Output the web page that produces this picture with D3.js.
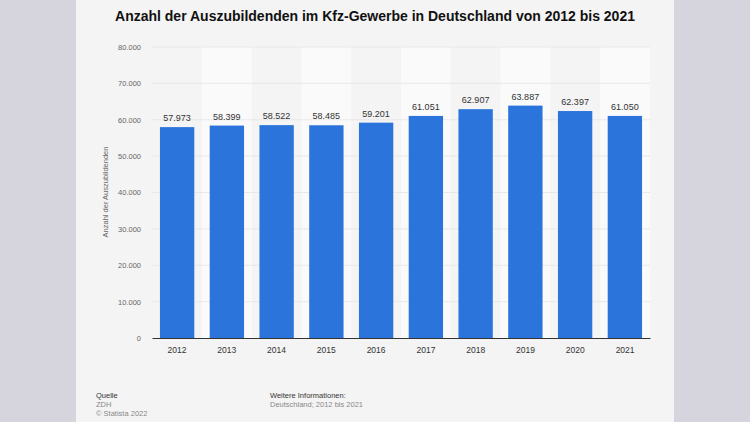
<!DOCTYPE html>
<html><head><meta charset="utf-8">
<script src="https://cdn.jsdelivr.net/npm/d3@7"></script>
<style>
html,body{margin:0;padding:0;background:#d6d5de;}
svg{display:block;font-family:"Liberation Sans",Arial,sans-serif;}
</style></head>
<body>
<svg id="c" width="750" height="422"></svg>
<script>
const years = ["2012","2013","2014","2015","2016","2017","2018","2019","2020","2021"];
const values = [57973,58399,58522,58485,59201,61051,62907,63887,62397,61050];
const yTicks = [0,10000,20000,30000,40000,50000,60000,70000,80000];
const title = "Anzahl der Auszubildenden im Kfz-Gewerbe in Deutschland von 2012 bis 2021";
const yTitle = "Anzahl der Auszubildenden";

const svg = d3.select("#c");
const fmt = v => d3.format(",")(v).replace(/,/g, ".");

svg.append("rect").attr("x",0).attr("y",0).attr("width",750).attr("height",422).attr("fill","#d6d5de");
svg.append("rect").attr("x",76).attr("y",0).attr("width",598).attr("height",422).attr("fill","#f4f4f4");

const m = {left:152, right:650, top:47, bottom:338};
const x = d3.scaleBand().domain(years).range([m.left, m.right]).paddingInner(0.31).paddingOuter(0.16);
const xb = d3.scaleBand().domain(years).range([m.left, m.right]).padding(0);
const y = d3.scaleLinear().domain([0,80000]).range([m.bottom, m.top]);

// alternating column backgrounds
svg.append("g").selectAll("rect").data(years.filter((d,i)=>i%2===1)).join("rect")
  .attr("x", d=>xb(d)).attr("y", m.top).attr("width", xb.bandwidth()).attr("height", m.bottom-m.top)
  .attr("fill","#fafafa");

// gridlines
svg.append("g").selectAll("line").data(yTicks.filter(t=>t>0)).join("line")
  .attr("x1", m.left).attr("x2", m.right).attr("y1", d=>y(d)).attr("y2", d=>y(d))
  .attr("stroke","#e4e4e4").attr("stroke-width",0.8);

// y axis labels
const yAxis = d3.axisLeft(y).tickValues(yTicks).tickFormat(fmt).tickSize(0).tickPadding(0);
const ga = svg.append("g").attr("transform",`translate(141,0)`).call(yAxis);
ga.select(".domain").remove();
ga.selectAll("text").attr("fill","#666").attr("font-size","7.5px").attr("font-family","'Liberation Sans',Arial,sans-serif");

// y title
svg.append("text").attr("transform","translate(108,192) rotate(-90)")
  .attr("text-anchor","middle").attr("font-size","7.5px").attr("fill","#666").text(yTitle);

// bars
svg.append("g").selectAll("rect").data(years).join("rect")
  .attr("x", d=>x(d)).attr("width", x.bandwidth())
  .attr("y", (d,i)=>y(values[i])).attr("height", (d,i)=>m.bottom - y(values[i]))
  .attr("fill","#2a74db");

// value labels
svg.append("g").selectAll("text").data(years).join("text")
  .attr("x", d=>x(d)+x.bandwidth()/2).attr("y", (d,i)=>y(values[i])-6)
  .attr("text-anchor","middle").attr("font-size","9px").attr("fill","#333")
  .text((d,i)=>fmt(values[i]));

// x axis
const xAxis = d3.axisBottom(xb).tickSize(0).tickPadding(9);
const gx = svg.append("g").attr("transform",`translate(0,${m.bottom})`).call(xAxis);
gx.select(".domain").attr("stroke","#333").attr("stroke-width",1.2);
gx.selectAll("text").attr("fill","#333").attr("font-size","8.5px").attr("font-family","'Liberation Sans',Arial,sans-serif");

// title
svg.append("text").attr("x",375).attr("y",21).attr("text-anchor","middle")
  .attr("font-size","14px").attr("font-weight","bold").attr("fill","#111").text(title);

// footer
const f = svg.append("g").attr("font-size","7.5px");
f.append("text").attr("x",96).attr("y",398).attr("fill","#333").text("Quelle");
f.append("text").attr("x",96).attr("y",407).attr("fill","#888").text("ZDH");
f.append("text").attr("x",96).attr("y",416).attr("fill","#888").text("© Statista 2022");
f.append("text").attr("x",270).attr("y",398).attr("fill","#333").text("Weitere Informationen:");
f.append("text").attr("x",270).attr("y",407).attr("fill","#888").text("Deutschland; 2012 bis 2021");
</script>
</body></html>
